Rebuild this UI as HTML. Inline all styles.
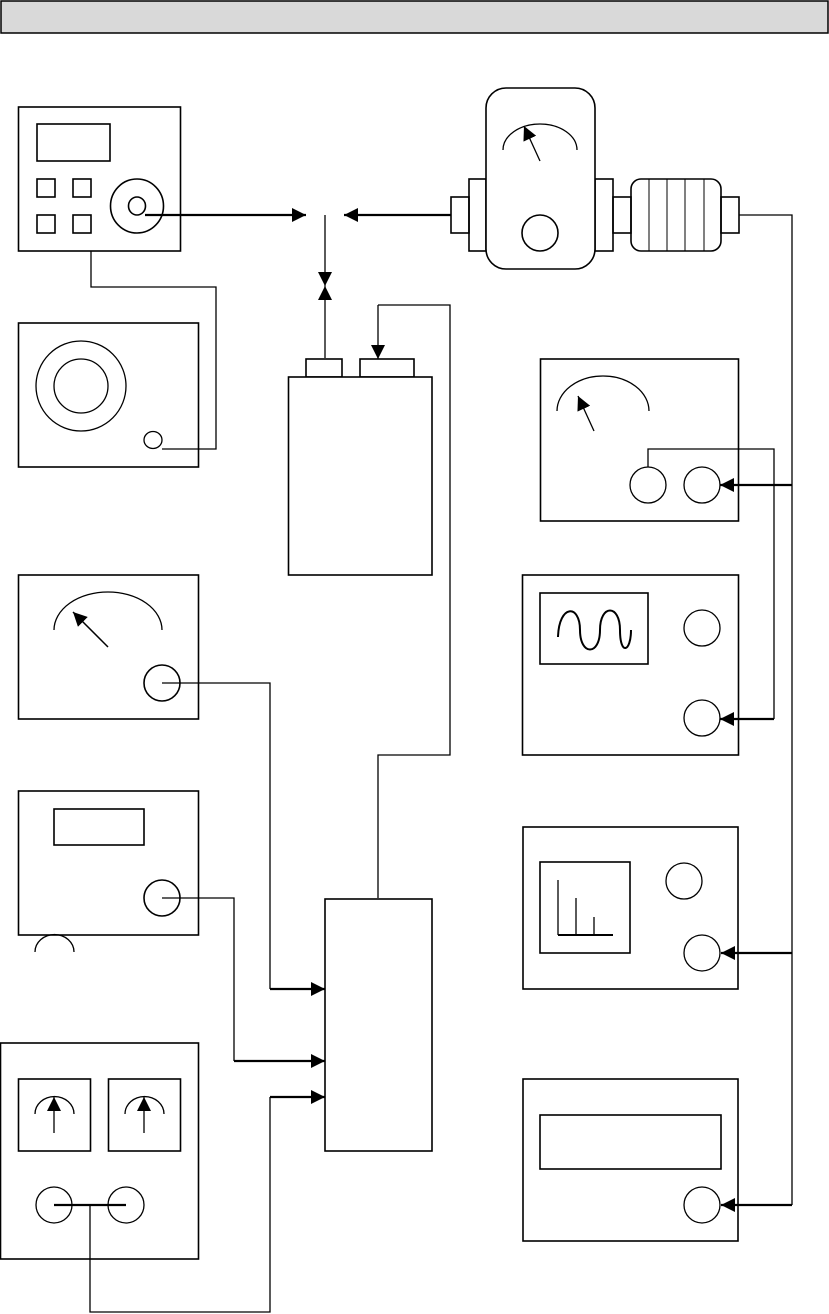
<!DOCTYPE html>
<html><head><meta charset="utf-8"><style>
html,body{margin:0;padding:0;background:#fff;}
svg{display:block;}
</style></head><body>
<svg width="829" height="1314" viewBox="0 0 829 1314" xmlns="http://www.w3.org/2000/svg" fill="none" stroke="#000">
<defs>
<marker id="ar" viewBox="0 0 10 10" refX="10" refY="5" markerWidth="14" markerHeight="14" markerUnits="userSpaceOnUse" orient="auto">
<path d="M0,0 L10,5 L0,10 z" fill="#000" stroke="none"/>
</marker>
</defs>
<!-- header -->
<rect x="1" y="1" width="827" height="32" fill="#d9d9d9" stroke-width="1.5"/>

<g stroke-width="1.6">
<!-- Box A signal generator -->
<rect x="18.5" y="107" width="162" height="144"/>
<rect x="37" y="124" width="73" height="37"/>
<rect x="37" y="179" width="18" height="18"/><rect x="73" y="179" width="18" height="18"/>
<rect x="37" y="215" width="18" height="18"/><rect x="73" y="215" width="18" height="18"/>
<ellipse cx="137" cy="206" rx="26.5" ry="27"/>
<ellipse cx="137" cy="206" rx="8.5" ry="9"/>

<!-- wattmeter unit -->
<rect x="451" y="197" width="18" height="36"/>
<rect x="469" y="179" width="17" height="72"/>
<rect x="595" y="179" width="18" height="72"/>
<rect x="613" y="197" width="18" height="36"/>
<rect x="486" y="88" width="109" height="181" rx="20" fill="#fff"/>
<path d="M503,150 A37,26 0 0 1 577,150" stroke-width="1.3"/>
<ellipse cx="540" cy="233" rx="18" ry="18"/>
<rect x="631" y="179" width="90" height="72" rx="10"/>
<rect x="721" y="197" width="18" height="36"/>
</g>
<g stroke-width="1">
<line x1="649" y1="179" x2="649" y2="251"/><line x1="667" y1="179" x2="667" y2="251"/>
<line x1="685" y1="179" x2="685" y2="251"/><line x1="704" y1="179" x2="704" y2="251"/>
</g>
<line x1="540" y1="161" x2="524" y2="126" stroke-width="1.3" marker-end="url(#ar)"/>

<!-- signal arrows top -->
<line x1="145" y1="215" x2="306" y2="215" stroke-width="2.2" marker-end="url(#ar)"/>
<line x1="451" y1="215" x2="344" y2="215" stroke-width="2.2" marker-end="url(#ar)"/>
<line x1="325" y1="215" x2="325" y2="286" stroke-width="1.3" marker-end="url(#ar)"/>
<line x1="325" y1="358" x2="325" y2="286" stroke-width="1.3" marker-end="url(#ar)"/>

<!-- Box B -->
<g stroke-width="1.6">
<rect x="18.5" y="323" width="180" height="144"/>
<ellipse cx="81" cy="386" rx="45" ry="45" stroke-width="1.3"/>
<ellipse cx="81" cy="386" rx="27" ry="27" stroke-width="1.3"/>
<ellipse cx="153" cy="440" rx="9" ry="8.5" stroke-width="1.3"/>
</g>
<polyline points="91,251 91,287 216,287 216,449 162,449" stroke-width="1.3"/>

<!-- battery box -->
<g stroke-width="1.6">
<rect x="306" y="359" width="36" height="18"/>
<rect x="360" y="359" width="54" height="18"/>
<rect x="288.5" y="377" width="143.5" height="198" fill="#fff"/>
</g>
<polyline points="378,898 378,755 450,755 450,305 378,305" stroke-width="1.3"/>
<line x1="378" y1="305" x2="378" y2="359" stroke-width="1.3" marker-end="url(#ar)"/>

<!-- Box F meter -->
<g stroke-width="1.6">
<rect x="18.5" y="575" width="180" height="144"/>
<path d="M54,630 A54,38 0 0 1 162,630" stroke-width="1.3"/>
<ellipse cx="162" cy="683" rx="18" ry="18"/>
</g>
<line x1="108" y1="647" x2="73" y2="612" stroke-width="1.5" marker-end="url(#ar)"/>
<polyline points="162,683 270,683 270,989" stroke-width="1.3"/>
<line x1="270" y1="989" x2="325" y2="989" stroke-width="2.2" marker-end="url(#ar)"/>

<!-- Box E -->
<g stroke-width="1.6">
<rect x="18.5" y="791" width="180" height="144"/>
<rect x="54" y="809" width="90" height="36"/>
<ellipse cx="162" cy="898" rx="18" ry="18"/>
<path d="M35,952 A19,17 0 0 1 74,952" stroke-width="1.3"/>
</g>
<polyline points="162,898 234,898 234,1061" stroke-width="1.3"/>
<line x1="234" y1="1061" x2="325" y2="1061" stroke-width="2.2" marker-end="url(#ar)"/>

<!-- integrator box -->
<rect x="325" y="899" width="107" height="252" stroke-width="1.6"/>

<!-- dual meter box -->
<g stroke-width="1.6">
<rect x="0.5" y="1043" width="198" height="216"/>
<rect x="18.5" y="1079" width="72" height="72"/>
<rect x="108.5" y="1079" width="72" height="72"/>
<path d="M35,1114 A19,17 0 0 1 74,1114" stroke-width="1.3"/>
<path d="M125,1114 A19,17 0 0 1 164,1114" stroke-width="1.3"/>
<ellipse cx="54" cy="1205" rx="18" ry="18" stroke-width="1.3"/>
<ellipse cx="126" cy="1205" rx="18" ry="18" stroke-width="1.3"/>
</g>
<line x1="54" y1="1133" x2="54" y2="1097" stroke-width="1.3" marker-end="url(#ar)"/>
<line x1="144" y1="1133" x2="144" y2="1097" stroke-width="1.3" marker-end="url(#ar)"/>
<line x1="54" y1="1205" x2="126" y2="1205" stroke-width="2.2"/>
<polyline points="90,1205 90,1312 270,1312 270,1097" stroke-width="1.3"/>
<line x1="270" y1="1097" x2="325" y2="1097" stroke-width="2.2" marker-end="url(#ar)"/>

<!-- right vertical bus -->
<polyline points="739,215 792,215 792,1205" stroke-width="1.3"/>

<!-- Box C -->
<g stroke-width="1.6">
<rect x="540.5" y="359" width="198" height="162"/>
<path d="M557,411 A46,35 0 0 1 649,411" stroke-width="1.3"/>
<ellipse cx="648" cy="485" rx="18" ry="18" stroke-width="1.3"/>
<ellipse cx="702" cy="485" rx="18" ry="18" stroke-width="1.3"/>
</g>
<line x1="594" y1="431" x2="578" y2="396" stroke-width="1.3" marker-end="url(#ar)"/>
<line x1="792" y1="485" x2="720" y2="485" stroke-width="2.2" marker-end="url(#ar)"/>
<polyline points="648,467 648,449 774,449 774,719" stroke-width="1.3"/>

<!-- Box D oscilloscope -->
<g stroke-width="1.6">
<rect x="522.5" y="575" width="216" height="180"/>
<rect x="540" y="593" width="108" height="71"/>
<ellipse cx="702" cy="628" rx="18" ry="18" stroke-width="1.3"/>
<ellipse cx="702" cy="718" rx="18" ry="18" stroke-width="1.3"/>
</g>
<path d="M558,637 C559,604 580,604 580,630 C580,656 600,656 600,630 C600,604 620,604 620,630 C620,656 631,652 631,630" stroke-width="2"/>
<line x1="774" y1="719" x2="720" y2="719" stroke-width="2.2" marker-end="url(#ar)"/>

<!-- spectrum analyzer -->
<g stroke-width="1.6">
<rect x="523" y="827" width="215" height="162"/>
<rect x="540" y="862" width="90" height="91"/>
<ellipse cx="684" cy="881" rx="18" ry="18" stroke-width="1.3"/>
<ellipse cx="702" cy="953" rx="18" ry="18" stroke-width="1.3"/>
<line x1="558" y1="935" x2="613" y2="935" stroke-width="2"/>
</g>
<g stroke-width="1.3">
<line x1="558" y1="880" x2="558" y2="935"/>
<line x1="576" y1="898" x2="576" y2="935"/>
<line x1="594" y1="917" x2="594" y2="935"/>
</g>
<line x1="792" y1="953" x2="721" y2="953" stroke-width="2.2" marker-end="url(#ar)"/>

<!-- counter -->
<g stroke-width="1.6">
<rect x="523" y="1079" width="215" height="162"/>
<rect x="540" y="1115" width="181" height="54"/>
<ellipse cx="702" cy="1205" rx="18" ry="18" stroke-width="1.3"/>
</g>
<line x1="792" y1="1205" x2="721" y2="1205" stroke-width="2.2" marker-end="url(#ar)"/>
</svg>
</body></html>
